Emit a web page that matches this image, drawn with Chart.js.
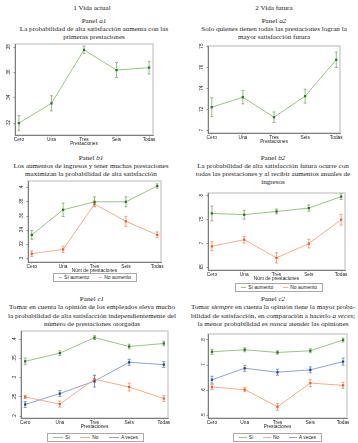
<!DOCTYPE html>
<html>
<head>
<meta charset="utf-8">
<script src="https://cdn.jsdelivr.net/npm/chart.js@4"></script>
<style>
  body { margin:0; background:#fff; }
  #page { position:relative; width:358px; height:443px; overflow:hidden; }
  .t { position:absolute; font-family:"Liberation Serif", serif; font-size:7.1px; line-height:8.3px;
       color:#222; text-align:center; white-space:nowrap; transform:translateX(-50%); }
  canvas { position:absolute; }
  .leg { position:absolute; border:1px solid #aaa; display:flex; align-items:center; justify-content:center;
         font-family:"Liberation Sans", sans-serif; font-size:4.9px; color:#222; white-space:nowrap; background:#fff; }
  .leg span.ln { display:inline-block; width:13px; height:0; border-top:1px solid; margin:0 2px 0 5px; }
  .leg span.tx { margin-right:5px; }
</style>
</head>
<body>
<div id="page">
  <div class="t" style="left:92px;top:4px">1 Vida actual</div>
  <div class="t" style="left:274px;top:4px">2 Vida futura</div>
  <div class="t" style="left:94px;top:16.5px">Panel <i>a1</i><br>La probabilidad de alta satisfacción aumenta con las<br>primeras prestaciones</div>
  <div class="t" style="left:274px;top:16.5px">Panel <i>a2</i><br>Solo quienes tienen todas las prestaciones logran la<br>mayor satisfacción futura</div>
  <div class="t" style="left:91px;top:153.5px">Panel <i>b1</i><br>Los aumentos de ingresos y tener muchas prestaciones<br>maximizan la probabilidad de alta satisfacción</div>
  <div class="t" style="left:273px;top:153.5px">Panel <i>b2</i><br>La probabilidad de alta satisfacción futura ocurre con<br>todas las prestaciones y al recibir aumentos anuales de<br>ingresos</div>
  <div class="t" style="left:92px;top:295px">Panel <i>c1</i><br>Tomar en cuenta la opinión de los empleados eleva mucho<br>la probabilidad de alta satisfacción independientemente del<br>número de prestaciones otorgadas</div>
  <div class="t" style="left:273px;top:295px">Panel <i>c2</i><br>Tomar <i>siempre</i> en cuenta la opinión tiene la mayor proba-<br>bilidad de satisfacción, en comparación a hacerlo <i>a veces</i>;<br>la menor probabilidad es <i>nunca</i> atender las opiniones</div>
</div>
<script>
const categories = ['Cero', 'Una', 'Tres', 'Seis', 'Todas'];

// Panel a1
const a1Values = [0.320, 0.3357, 0.378, 0.362, 0.364];
const a1Errors = [0.006, 0.006, 0.003, 0.006, 0.005];
const a1Ticks = [0.32, 0.34, 0.36, 0.38];

// Panel a2
const a2Values = [0.7225, 0.732, 0.713, 0.733, 0.7676];
const a2Errors = [0.009, 0.0063, 0.005, 0.0066, 0.0073];
const a2Ticks = [0.70, 0.72, 0.74, 0.76, 0.78];

// Panel b1
const b1Si = [0.3335, 0.3688, 0.380, 0.380, 0.4023];
const b1SiErr = [0.0063, 0.0095, 0.007, 0.007, 0.003];
const b1No = [0.307, 0.313, 0.3768, 0.3525, 0.3335];
const b1NoErr = [0.004, 0.0045, 0.003, 0.007, 0.0042];
const b1Ticks = [0.30, 0.32, 0.34, 0.36, 0.38, 0.40];

// Panel b2
const b2Si = [0.7633, 0.7606, 0.7674, 0.7745, 0.7986];
const b2SiErr = [0.0156, 0.0093, 0.005, 0.0065, 0.006];
const b2No = [0.6942, 0.7081, 0.6699, 0.6998, 0.7502];
const b2NoErr = [0.0093, 0.007, 0.0107, 0.009, 0.0114];
const b2Ticks = [0.65, 0.70, 0.75, 0.80];

// Panel c1
const c1Si = [0.3425, 0.364, 0.4044, 0.3812, 0.389];
const c1SiErr = [0.0086, 0.006, 0.005, 0.006, 0.006];
const c1No = [0.2497, 0.2309, 0.2961, 0.2755, 0.2456];
const c1NoErr = [0.004, 0.008, 0.009, 0.0103, 0.0077];
const c1AVeces = [0.2301, 0.2585, 0.291, 0.340, 0.334];
const c1AVecesErr = [0.0077, 0.0077, 0.0155, 0.0077, 0.0077];
const c1Ticks = [0.20, 0.25, 0.30, 0.35, 0.40];

// Panel c2
const c2Si = [0.753, 0.7609, 0.7502, 0.7569, 0.800];
const c2SiErr = [0.010, 0.008, 0.0067, 0.008, 0.008];
const c2No = [0.6119, 0.6014, 0.5328, 0.6277, 0.6186];
const c2NoErr = [0.010, 0.008, 0.014, 0.014, 0.012];
const c2AVeces = [0.641, 0.687, 0.6712, 0.6806, 0.7134];
const c2AVecesErr = [0.014, 0.012, 0.012, 0.012, 0.014];
const c2Ticks = [0.5, 0.6, 0.7, 0.8];

const green = { line: 'rgb(150,198,128)', mark: 'rgb(40,115,40)', bar: 'rgb(120,175,100)' };
const orange = { line: 'rgb(250,170,135)', mark: 'rgb(240,95,35)', bar: 'rgb(245,140,100)' };
const blue = { line: 'rgb(140,165,205)', mark: 'rgb(30,70,140)', bar: 'rgb(100,130,180)' };

const errorBars = {
  id: 'errorBars',
  beforeDatasetsDraw(chart) {
    const { ctx, scales: { x, y } } = chart;
    chart.data.datasets.forEach(ds => {
      ctx.save();
      ctx.strokeStyle = ds.barColor;
      ctx.lineWidth = 0.8;
      ds.data.forEach((p, i) => {
        const px = x.getPixelForValue(p.x);
        const top = y.getPixelForValue(p.y + ds.errors[i]);
        const bot = y.getPixelForValue(p.y - ds.errors[i]);
        ctx.beginPath();
        ctx.moveTo(px, top); ctx.lineTo(px, bot);
        ctx.moveTo(px - 1.5, top); ctx.lineTo(px + 1.5, top);
        ctx.moveTo(px - 1.5, bot); ctx.lineTo(px + 1.5, bot);
        ctx.stroke();
      });
      ctx.restore();
    });
  }
};

const frame = {
  id: 'frame',
  beforeDraw(chart) {
    const { ctx, chartArea: a } = chart;
    ctx.save();
    ctx.strokeStyle = '#cfcfcf';
    ctx.lineWidth = 1.5;
    ctx.strokeRect(a.left, a.top, a.right - a.left, a.bottom - a.top);
    ctx.restore();
  }
};

function fmt(v) {
  return String(+v.toFixed(2)).replace(/^0/, '');
}

function makePanel(box, yMin, yMax, yTicks, xTitle, series) {
  const padL = 14, padT = 3, padR = 4, padB = 12;
  const canvas = document.createElement('canvas');
  const w = box.x1 - box.x0 + padL + padR;
  const h = box.y1 - box.y0 + padT + padB;
  canvas.width = w; canvas.height = h;
  canvas.style.left = (box.x0 - padL) + 'px';
  canvas.style.top = (box.y0 - padT) + 'px';
  canvas.style.width = w + 'px'; canvas.style.height = h + 'px';
  document.getElementById('page').appendChild(canvas);

  new Chart(canvas, {
    type: 'line',
    data: {
      datasets: series.map(s => ({
        label: s.label,
        data: s.values.map((v, i) => ({ x: i, y: v })),
        errors: s.errors,
        barColor: s.color.bar,
        borderColor: s.color.line,
        borderWidth: 1,
        pointStyle: 'rect',
        pointRadius: 1.6,
        pointBackgroundColor: s.color.mark,
        pointBorderColor: s.color.mark,
        pointBorderWidth: 0,
        tension: 0
      }))
    },
    options: {
      responsive: false,
      animation: false,
      devicePixelRatio: 1,
      layout: { padding: { left: 0, top: padT, right: padR, bottom: 0 } },
      plugins: { legend: { display: false }, tooltip: { enabled: false } },
      scales: {
        x: {
          type: 'linear', min: -0.12, max: 4.12,
          afterBuildTicks: s => { s.ticks = categories.map((c, i) => ({ value: i })); },
          afterFit: s => { s.height = padB; },
          grid: { display: true, drawOnChartArea: false, tickLength: 1.5, color: '#555', lineWidth: 0.6 },
          border: { display: true, color: '#666', width: 0.8 },
          ticks: { font: { family: 'Liberation Sans', size: 4.8 }, color: '#222', padding: 0.3,
                   maxRotation: 0, autoSkip: false, callback: v => categories[v] },
          title: { display: true, text: xTitle, padding: { top: 0, bottom: 0 },
                   font: { family: 'Liberation Sans', size: 4.8 }, color: '#222' }
        },
        y: {
          min: yMin, max: yMax,
          afterBuildTicks: s => { s.ticks = yTicks.map(v => ({ value: v })); },
          afterFit: s => { s.width = padL; },
          grid: { display: true, drawOnChartArea: false, tickLength: 1.5, color: '#555', lineWidth: 0.6 },
          border: { display: true, color: '#666', width: 0.8 },
          ticks: { font: { family: 'Liberation Sans', size: 4.6 }, color: '#222', padding: 1.2,
                   minRotation: 90, maxRotation: 90, crossAlign: 'center', callback: v => fmt(v) }
        }
      }
    },
    plugins: [frame, errorBars]
  });
}

function makeLegend(x0, x1, yc, series) {
  const d = document.createElement('div');
  d.className = 'leg';
  d.style.left = x0 + 'px';
  d.style.top = (yc - 4) + 'px';
  d.style.width = (x1 - x0) + 'px';
  d.style.height = '7px';
  series.forEach(s => {
    const ln = document.createElement('span');
    ln.className = 'ln';
    ln.style.borderColor = s.color.line;
    const tx = document.createElement('span');
    tx.className = 'tx';
    tx.textContent = s.label;
    d.appendChild(ln); d.appendChild(tx);
  });
  document.getElementById('page').appendChild(d);
}

makePanel({ x0: 15, x1: 153, y0: 43, y1: 135 }, 0.3106, 0.3827, a1Ticks, 'Prestaciones',
  [{ label: 'Vida actual', values: a1Values, errors: a1Errors, color: green }]);

makePanel({ x0: 208, x1: 340, y0: 45, y1: 133 }, 0.698, 0.7807, a2Ticks, 'Prestaciones',
  [{ label: 'Vida futura', values: a2Values, errors: a2Errors, color: green }]);

const b1Series = [
  { label: 'Sí aumento', values: b1Si, errors: b1SiErr, color: green },
  { label: 'No aumento', values: b1No, errors: b1NoErr, color: orange }
];
makePanel({ x0: 28, x1: 161, y0: 180, y1: 262 }, 0.2953, 0.4093, b1Ticks, 'Núm de prestaciones', b1Series);
makeLegend(53, 135, 276.5, b1Series);

const b2Series = [
  { label: 'Sí aumento', values: b2Si, errors: b2SiErr, color: green },
  { label: 'No aumento', values: b2No, errors: b2NoErr, color: orange }
];
makePanel({ x0: 208, x1: 345, y0: 192, y1: 270 }, 0.6444, 0.8062, b2Ticks, 'Núm de prestaciones', b2Series);
makeLegend(235, 321, 286.5, b2Series);

const c1Series = [
  { label: 'Sí', values: c1Si, errors: c1SiErr, color: green },
  { label: 'No', values: c1No, errors: c1NoErr, color: orange },
  { label: 'A veces', values: c1AVeces, errors: c1AVecesErr, color: blue }
];
makePanel({ x0: 21, x1: 168, y0: 330, y1: 418 }, 0.1948, 0.4216, c1Ticks, 'Prestaciones', c1Series);
makeLegend(47, 142, 436.5, c1Series);

const c2Series = [
  { label: 'Sí', values: c2Si, errors: c2SiErr, color: green },
  { label: 'No', values: c2No, errors: c2NoErr, color: orange },
  { label: 'A veces', values: c2AVeces, errors: c2AVecesErr, color: blue }
];
makePanel({ x0: 208, x1: 347, y0: 333, y1: 418 }, 0.488, 0.824, c2Ticks, 'Prestaciones', c2Series);
makeLegend(233, 320, 436.5, c2Series);
</script>
</body>
</html>
